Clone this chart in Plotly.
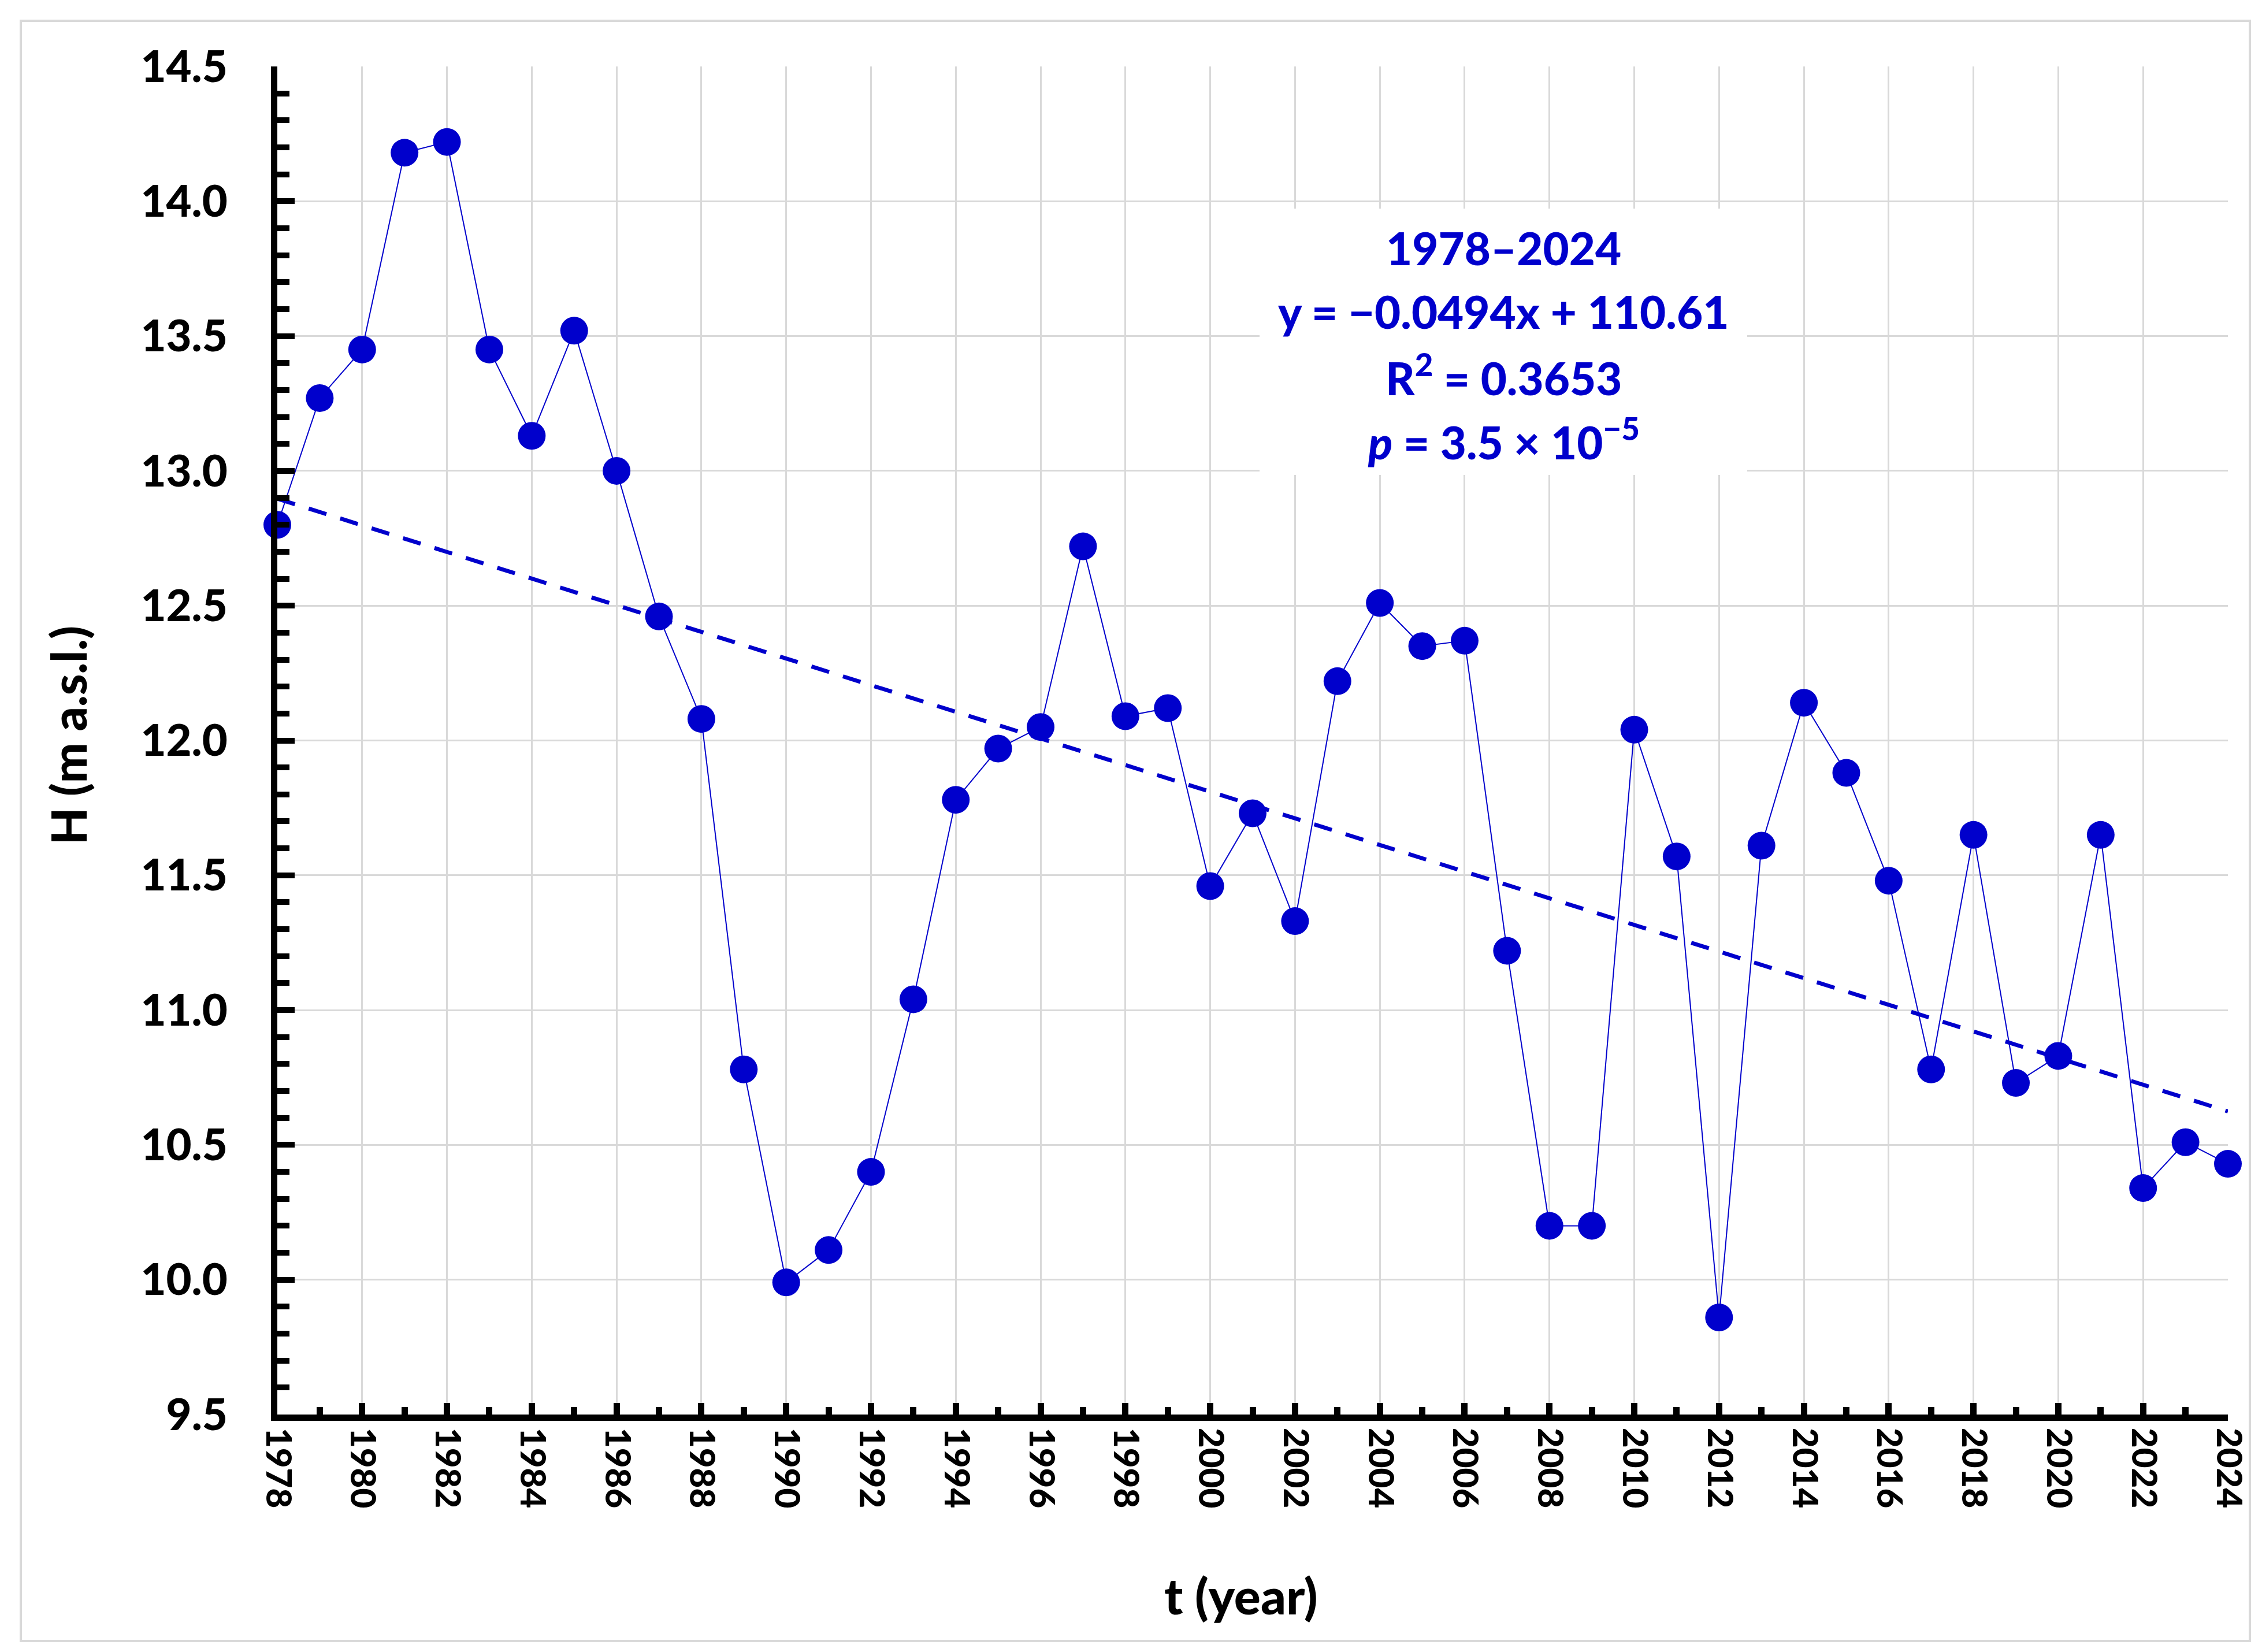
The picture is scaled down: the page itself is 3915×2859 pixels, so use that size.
import plotly.graph_objects as go

# ---- data ----
years = list(range(1978, 2025))
water_level = [
    12.80, 13.27, 13.45, 14.18, 14.22, 13.45, 13.13, 13.52, 13.00, 12.46,
    12.08, 10.78, 9.99, 10.11, 10.40, 11.04, 11.78, 11.97, 12.05, 12.72,
    12.09, 12.12, 11.46, 11.73, 11.33, 12.22, 12.51, 12.35, 12.37, 11.22,
    10.20, 10.20, 12.04, 11.57, 9.86, 11.61, 12.14, 11.88, 11.48, 10.78,
    11.65, 10.73, 10.83, 11.65, 10.34, 10.51, 10.43,
]
trend_slope = -0.0494
trend_intercept = 110.61
trend_years = [1978, 2024]
trend_values = [trend_slope * t + trend_intercept for t in trend_years]

annotation_lines = [
    "1978–2024",
    "y = −0.0494x + 110.61",
    "R<sup>2</sup> = 0.3653",
    "<i>p</i> = 3.5 × 10<sup>−5</sup>",
]
x_title = "t (year)"
y_title = "H (m a.s.l.)"

# ---- layout constants ----
W, H = 3915, 2859
L, R, T, B = 472, 67, 107, 419
PW, PH = W - L - R, H - T - B
BLUE = "#0000CC"
GRID = "#D9D9D9"
FONT = "Lato"
HEAVY = 900


def px_to_paper_x(px):
    return (px - L) / PW


def px_to_paper_y(py):
    return (H - B - py) / PH


fig = go.Figure()

fig.add_trace(go.Scatter(
    x=trend_years, y=trend_values, mode="lines",
    line=dict(color=BLUE, width=7, dash="32px,25px"),
    hoverinfo="skip", showlegend=False, cliponaxis=False,
))

fig.add_trace(go.Scatter(
    x=years, y=water_level, mode="lines+markers",
    line=dict(color=BLUE, width=2),
    marker=dict(color=BLUE, size=48, line=dict(width=0)),
    showlegend=False, cliponaxis=False,
))

# white box behind the regression text
fig.add_shape(
    type="rect", xref="paper", yref="paper",
    x0=px_to_paper_x(2172), x1=px_to_paper_x(3016),
    y0=px_to_paper_y(814), y1=px_to_paper_y(353),
    fillcolor="white", line=dict(width=0), layer="above",
)

# outer light-grey frame
fig.add_shape(
    type="rect", xref="paper", yref="paper",
    x0=px_to_paper_x(28), x1=px_to_paper_x(3886),
    y0=px_to_paper_y(2832), y1=px_to_paper_y(28),
    fillcolor="rgba(0,0,0,0)", line=dict(color=GRID, width=4), layer="above",
)

line_y_px = [421, 531, 641, 752]
for txt, ypx in zip(annotation_lines, line_y_px):
    fig.add_annotation(
        x=px_to_paper_x(2594), y=px_to_paper_y(ypx),
        xref="paper", yref="paper", text=txt,
        showarrow=False, xanchor="center", yanchor="middle",
        font=dict(family=FONT, size=78, color=BLUE, weight=HEAVY),
    )

# axis titles
fig.add_annotation(
    x=px_to_paper_x(2140), y=px_to_paper_y(2752), xref="paper", yref="paper",
    text=x_title, showarrow=False,
    xanchor="center", yanchor="middle",
    font=dict(family=FONT, size=86, color="black", weight=HEAVY),
)
fig.add_annotation(
    x=px_to_paper_x(110), y=px_to_paper_y(1265), xref="paper", yref="paper",
    text=y_title, showarrow=False, textangle=-90,
    xanchor="center", yanchor="middle",
    font=dict(family=FONT, size=83, color="black", weight=HEAVY),
)

fig.update_layout(
    width=W, height=H,
    margin=dict(l=L, r=R, t=T, b=B, pad=0),
    paper_bgcolor="white", plot_bgcolor="white",
    font=dict(family=FONT, color="black"),
)

fig.update_xaxes(
    range=[1978, 2024], tick0=1978, dtick=2,
    showgrid=True, gridcolor=GRID, gridwidth=3,
    showline=True, linecolor="black", linewidth=11,
    ticks="inside", ticklen=20, tickwidth=11, tickcolor="black",
    minor=dict(ticks="inside", dtick=1, tick0=1978, ticklen=13, tickwidth=11,
               tickcolor="black", showgrid=False),
    tickangle=90, tickfont=dict(family=FONT, size=60, color="black", weight=HEAVY),
    zeroline=False,
)

fig.update_yaxes(
    range=[9.5, 14.5], tick0=9.5, dtick=0.5, tickformat=".1f",
    showgrid=True, gridcolor=GRID, gridwidth=3,
    showline=True, linecolor="black", linewidth=11,
    ticks="inside", ticklen=30, tickwidth=10, tickcolor="black",
    minor=dict(ticks="inside", dtick=0.1, ticklen=21, tickwidth=10,
               tickcolor="black", showgrid=False),
    tickfont=dict(family=FONT, size=76, color="black", weight=HEAVY),
    ticklabelstandoff=60,
    zeroline=False,
)

fig.write_html("out.html")
